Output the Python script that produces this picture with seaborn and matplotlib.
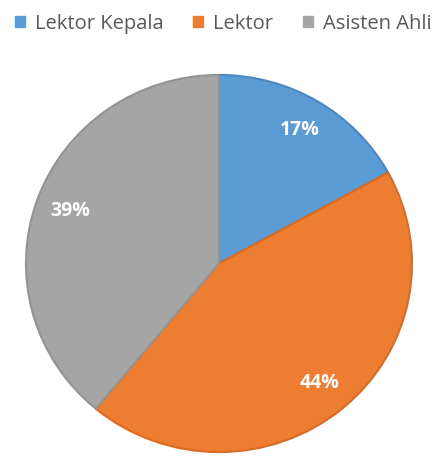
import matplotlib
matplotlib.use("Agg")
import matplotlib.pyplot as plt
import seaborn as sns
from matplotlib.patches import Patch

categories = ["Lektor Kepala", "Lektor", "Asisten Ahli"]
values = [17, 44, 39]
colors = ["#5B9BD5", "#ED7D31", "#A5A5A5"]
edge_colors = ["#4A88C2", "#D96B22", "#939393"]

sns.set_theme(style="white")
plt.rcParams['font.family'] = ['Open Sans', 'DejaVu Sans']

fig = plt.figure(figsize=(4.37, 4.57), dpi=100)
ax = fig.add_axes([25/437, 4/457, 388/437, 379/457])

wedges, texts, autotexts = ax.pie(
    values, colors=colors, startangle=90, counterclock=False,
    autopct=lambda p: f"{p:.0f}%", pctdistance=0.82,
    wedgeprops=dict(linewidth=1.5),
    textprops=dict(color="white", fontsize=14, fontweight="bold"))
for w, ec in zip(wedges, edge_colors):
    w.set_edgecolor(ec)
ax.set_aspect("auto")
ax.set_xlim(-1.005, 1.005)
ax.set_ylim(-1.005, 1.005)
ax.axis("off")

handles = [Patch(facecolor=c, edgecolor=c) for c in colors]
leg = fig.legend(handles, categories, loc="upper center", bbox_to_anchor=(0.511, 1.01),
                 ncol=3, frameon=False, fontsize=14.5, handlelength=0.5, handleheight=0.5,
                 handletextpad=0.5, columnspacing=1.45, labelcolor="#595959")

fig.savefig("out.png", dpi=100, facecolor="white")
